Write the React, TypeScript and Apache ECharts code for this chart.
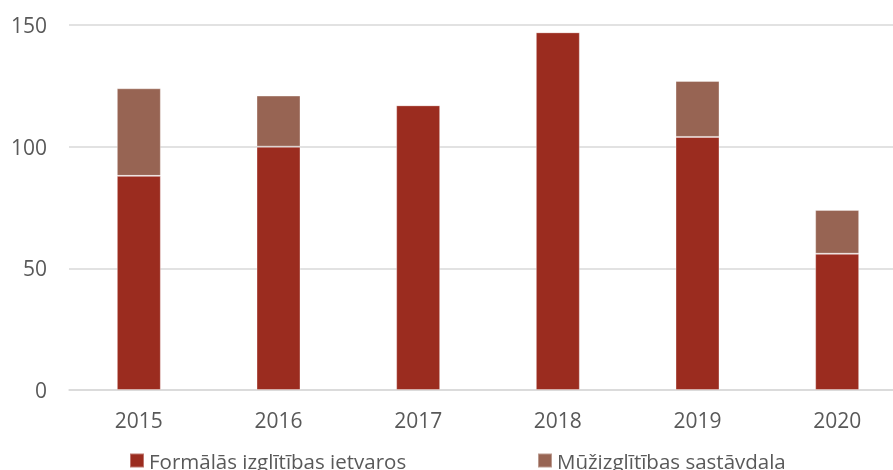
import React, { useEffect, useRef } from "react";
import * as echarts from "echarts";

const categories = ["2015", "2016", "2017", "2018", "2019", "2020"];
const formal = [88, 100, 117, 147, 104, 56];
const lifelong = [36, 21, 0, 0, 23, 18];
const seriesNames = ["Formālās izglītības ietvaros", "Mūžizglītības sastāvdaļa"];
const yTicks = { min: 0, max: 150, interval: 50 };

const FONT = "'Open Sans', 'Noto Sans', sans-serif";
const TEXT = "#595959";

export default function App() {
  const ref = useRef<HTMLDivElement>(null);
  useEffect(() => {
    if (!ref.current) return;
    const chart = echarts.init(ref.current, undefined, { renderer: "svg" });
    chart.setOption({
      animation: false,
      textStyle: { fontFamily: FONT },
      grid: { left: 69, right: 0, top: 25, bottom: 80, containLabel: false },
      legend: [
        {
          data: [seriesNames[0]],
          left: 124,
          top: 445,
          itemWidth: 14,
          itemHeight: 14,
          icon: "rect",
          textStyle: { color: TEXT, fontSize: 20.5, fontFamily: FONT },
        },
        {
          data: [seriesNames[1]],
          left: 532,
          top: 445,
          itemWidth: 14,
          itemHeight: 14,
          icon: "rect",
          textStyle: { color: TEXT, fontSize: 20.5, fontFamily: FONT },
        },
      ],
      xAxis: {
        type: "category",
        data: categories,
        axisLine: { lineStyle: { color: "#d9d9d9", width: 1.5 } },
        axisTick: { show: false },
        axisLabel: { color: TEXT, fontSize: 21, margin: 19, fontFamily: FONT },
      },
      yAxis: {
        type: "value",
        min: yTicks.min,
        max: yTicks.max,
        interval: yTicks.interval,
        axisLine: { show: false },
        axisTick: { show: false },
        splitLine: { lineStyle: { color: "#d9d9d9", width: 1.5 } },
        axisLabel: { color: TEXT, fontSize: 21, margin: 22, fontFamily: FONT },
      },
      series: [
        {
          name: seriesNames[0],
          type: "bar",
          stack: "total",
          data: formal,
          barWidth: 44,
          itemStyle: { color: "#9b2c1f", borderColor: "rgba(255,255,255,0.35)", borderWidth: 1 },
        },
        {
          name: seriesNames[1],
          type: "bar",
          stack: "total",
          data: lifelong,
          barWidth: 44,
          itemStyle: { color: "#976453", borderColor: "rgba(255,255,255,0.35)", borderWidth: 1 },
        },
      ],
    });
    return () => chart.dispose();
  }, []);
  return (
    <div
      ref={ref}
      style={{ position: "fixed", left: 0, top: 0, width: 907, height: 470 }}
    />
  );
}
